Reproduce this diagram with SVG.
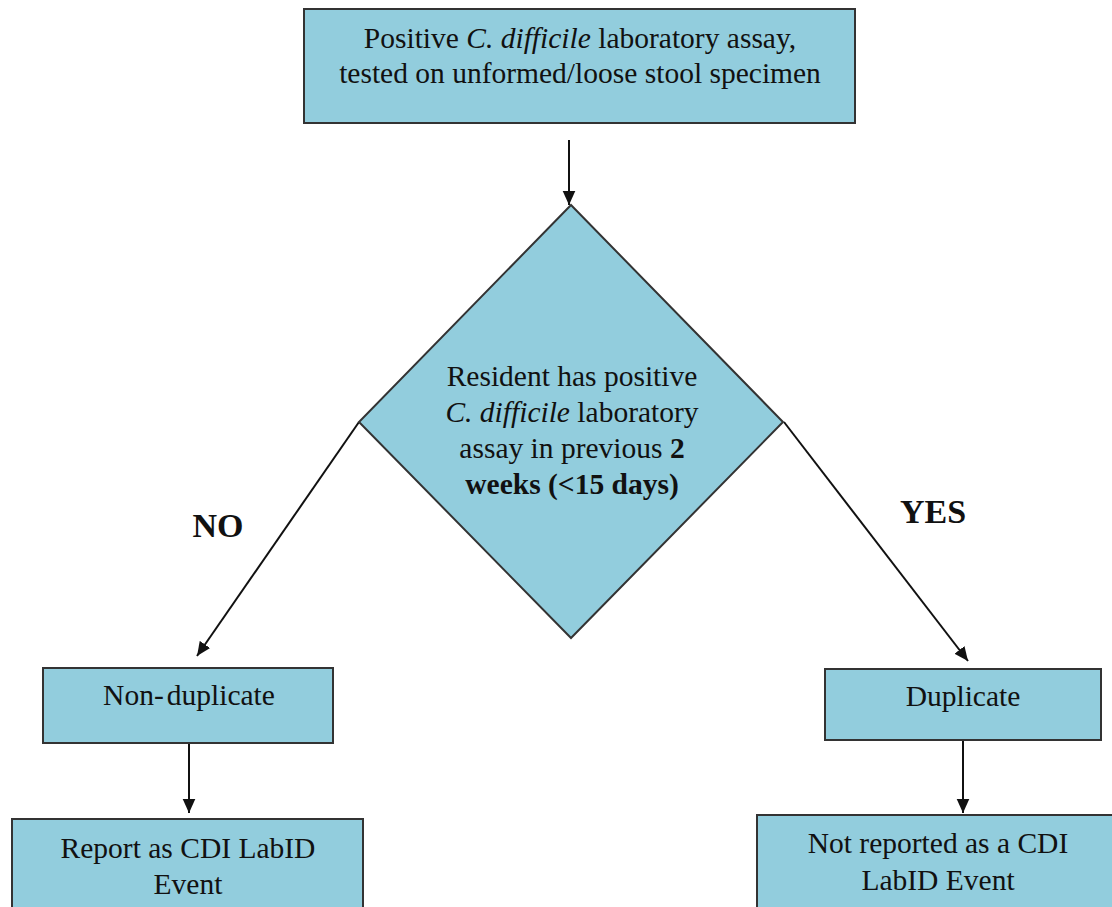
<svg xmlns="http://www.w3.org/2000/svg" width="1112" height="907" viewBox="0 0 1112 907">
<style>
.box{fill:#92CDDD;stroke:#333;stroke-width:2}
.t{font-family:"Liberation Serif","Times New Roman",serif;font-size:29.5px;fill:#111;text-anchor:middle}
.b{font-weight:bold}
.lbl{font-size:34px}
.c{stroke:#111;stroke-width:2;fill:none}
</style>
<defs>
<marker id="ah" viewBox="0 0 10 10" refX="10" refY="5" markerWidth="14" markerHeight="14" markerUnits="userSpaceOnUse" orient="auto">
<path d="M0,0.5 L10,5 L0,9.5 z" fill="#111"/>
</marker>
</defs>
<rect width="1112" height="907" fill="#fff"/>
<g id="connectors">
<line class="c" x1="569" y1="140" x2="569" y2="205" marker-end="url(#ah)"/>
<line class="c" x1="359" y1="422" x2="197" y2="656" marker-end="url(#ah)"/>
<line class="c" x1="784" y1="422" x2="968" y2="661" marker-end="url(#ah)"/>
<line class="c" x1="189" y1="743" x2="189" y2="813" marker-end="url(#ah)"/>
<line class="c" x1="963" y1="740" x2="963" y2="813" marker-end="url(#ah)"/>
</g>
<g id="start">
<rect class="box" x="304" y="9" width="551" height="114"/>
<text class="t" x="580" y="48">Positive <tspan font-style="italic">C. difficile</tspan> laboratory assay,</text>
<text class="t" x="580" y="83">tested on unformed/loose stool specimen</text>
</g>
<g id="decision">
<polygon class="box" points="571,205 783,422 571,638 359,422"/>
<text class="t" x="572" y="386">Resident has positive</text>
<text class="t" x="572" y="422"><tspan font-style="italic">C. difficile</tspan> laboratory</text>
<text class="t" x="572" y="458">assay in previous <tspan class="b">2</tspan></text>
<text class="t b" x="572" y="494">weeks (&lt;15 days)</text>
</g>
<g id="label-no"><text class="t b lbl" x="218" y="537">NO</text></g>
<g id="label-yes"><text class="t b lbl" x="933" y="523">YES</text></g>
<g id="nondup">
<rect class="box" x="43" y="668" width="290" height="75"/>
<text class="t" x="189" y="705">Non-<tspan dx="3">duplicate</tspan></text>
</g>
<g id="dup">
<rect class="box" x="825" y="669" width="276" height="71"/>
<text class="t" x="963" y="706">Duplicate</text>
</g>
<g id="report">
<rect class="box" x="12" y="819" width="351" height="100"/>
<text class="t" x="188" y="858">Report as CDI LabID</text>
<text class="t" x="188" y="894">Event</text>
</g>
<g id="notreport">
<rect class="box" x="757" y="815" width="370" height="100"/>
<text class="t" x="938" y="853">Not reported as a CDI</text>
<text class="t" x="938" y="890">LabID Event</text>
</g>
</svg>
